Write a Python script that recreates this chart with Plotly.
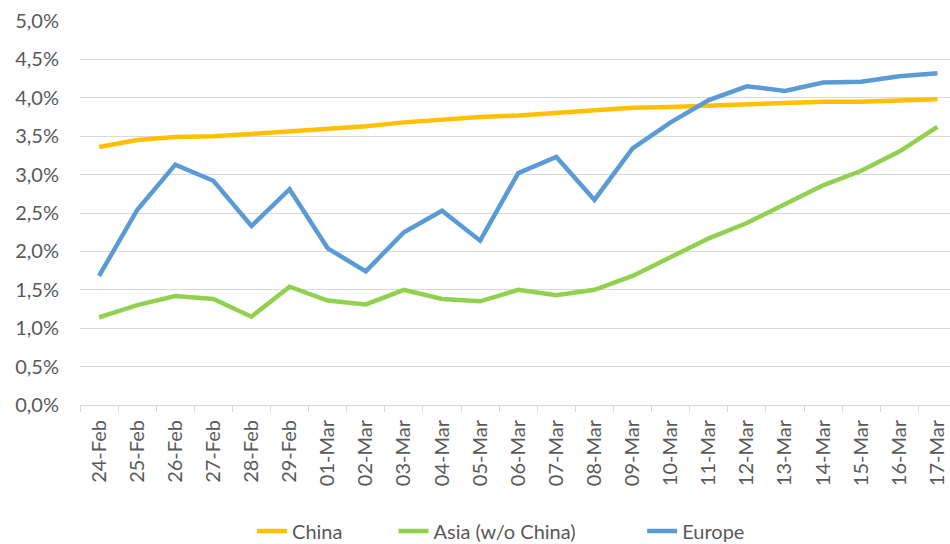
import plotly.graph_objects as go

# ── Data (share of cases) ──────────────────────────────────────────────────
DATES = [
    "24-Feb", "25-Feb", "26-Feb", "27-Feb", "28-Feb", "29-Feb",
    "01-Mar", "02-Mar", "03-Mar", "04-Mar", "05-Mar", "06-Mar",
    "07-Mar", "08-Mar", "09-Mar", "10-Mar", "11-Mar", "12-Mar",
    "13-Mar", "14-Mar", "15-Mar", "16-Mar", "17-Mar",
]

CHINA = [
    3.36, 3.45, 3.49, 3.50, 3.53, 3.56, 3.60, 3.63, 3.68, 3.72, 3.75, 3.77,
    3.80, 3.83, 3.87, 3.88, 3.90, 3.91, 3.93, 3.95, 3.95, 3.97, 3.98,
]

ASIA = [
    1.14, 1.30, 1.42, 1.38, 1.15, 1.54, 1.36, 1.31, 1.50, 1.38, 1.35, 1.50,
    1.43, 1.50, 1.68, 1.93, 2.17, 2.37, 2.62, 2.86, 3.05, 3.30, 3.62,
]

EUROPE = [
    1.68, 2.54, 3.13, 2.92, 2.33, 2.81, 2.04, 1.74, 2.25, 2.53, 2.14, 3.02,
    3.23, 2.67, 3.34, 3.68, 3.97, 4.15, 4.09, 4.20, 4.21, 4.28, 4.32,
]

# name, values, colour, nbsp padding after the legend text
SERIES = [
    ("China", CHINA, "#FFC000", 9),
    ("Asia (w/o China)", ASIA, "#92D050", 12),
    ("Europe", EUROPE, "#5B9BD5", 0),
]

GREY_TEXT = "#595959"
GRID = "#D9D9D9"

fig = go.Figure()
for name, vals, color, pad in SERIES:
    fig.add_trace(go.Scatter(
        x=DATES, y=[v / 100 for v in vals],
        name=name + "\u00a0" * pad, mode="lines",
        line=dict(color=color, width=4.5),
    ))

fig.update_layout(
    width=950, height=544,
    separators=",.",
    plot_bgcolor="white",
    paper_bgcolor="white",
    font=dict(family="Lato, sans-serif", size=20, color=GREY_TEXT),
    margin=dict(l=80, r=0, t=21, b=139),
    showlegend=True,
    # container refs so the legend doesn't push the bottom margin
    legend=dict(
        orientation="h",
        xref="container", yref="container",
        x=0.2653, y=0.024, xanchor="left", yanchor="middle",
        font=dict(size=20, color=GREY_TEXT),
        bgcolor="rgba(0,0,0,0)",
    ),
    xaxis=dict(
        type="category",
        range=[-0.5, 22.33],
        automargin=False,
        tickangle=-90,
        tickson="boundaries",
        ticks="outside", ticklen=6, tickcolor=GRID, tickwidth=1,
        showline=True, linecolor=GRID, linewidth=1,
        showgrid=False,
        ticklabelstandoff=6,
    ),
    yaxis=dict(
        range=[0, 0.05],
        dtick=0.005,
        tickformat=".1%",
        automargin=False,
        showgrid=True, gridcolor=GRID, gridwidth=1,
        zeroline=False,
        showline=False,
        ticks="",
        ticklabelstandoff=20,
    ),
)

# the page's default body margin would shift the chart by 8px
fig.write_html(
    "out.html",
    config={"displayModeBar": False},
    post_script="document.body.style.margin='0';",
)
